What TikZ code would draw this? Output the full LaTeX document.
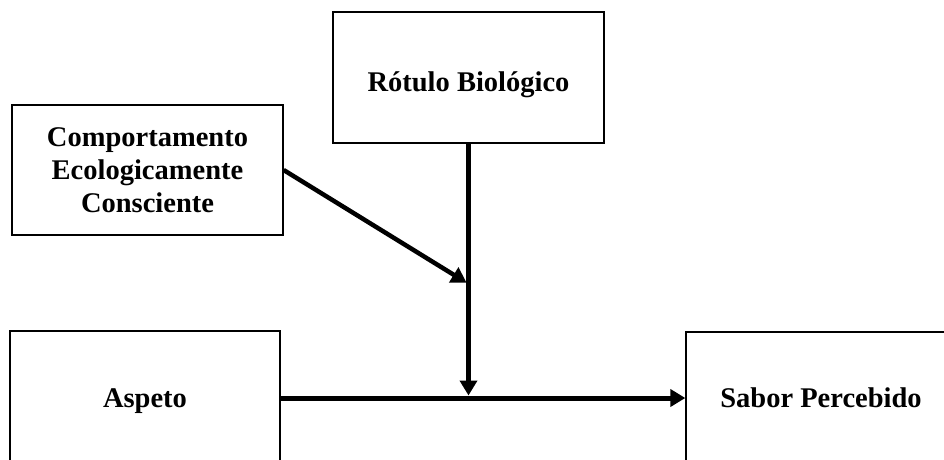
\documentclass[tikz,border=0pt]{standalone}
\usepackage{fontspec}
\setmainfont{Liberation Serif}
\usetikzlibrary{arrows.meta,calc}
\begin{document}
\begin{tikzpicture}[x=1pt,y=-1pt,
  box/.style={draw=black,line width=1.3pt,minimum width=270pt,inner sep=0pt,
    font=\fontsize{28.5}{33}\selectfont\bfseries,align=center},
  conn/.style={line width=5pt,-{Triangle[length=15pt,width=17pt]}}]
\useasboundingbox (0,0) rectangle (944,459);
\clip (0,0) rectangle (944,459);
\node[box,minimum height=131pt,minimum width=271pt,text height=34pt,text depth=7pt] (rot) at (468.5,77.5) {Rótulo Biológico};
\node[box,minimum height=130pt,minimum width=271pt] (comp) at (147.5,170) {Comportamento\\Ecologicamente\\Consciente};
\node[box,minimum height=134pt,text height=25pt,text depth=6pt] (asp) at (145,398) {Aspeto};
\node[box,minimum height=132pt,text height=25pt,text depth=6pt] (sab) at (821,398) {Sabor Percebido};
\coordinate (m) at ($(rot.south |- asp.east)+(0,-2.5)$);
\coordinate (c) at ($(rot.south)+(-2,139)$);
\draw[conn] (rot.south) -- (m);
\draw[conn,line width=4.5pt] (comp.east) -- (c);
\draw[conn] (asp.east) -- (sab.west);
\end{tikzpicture}
\end{document}
